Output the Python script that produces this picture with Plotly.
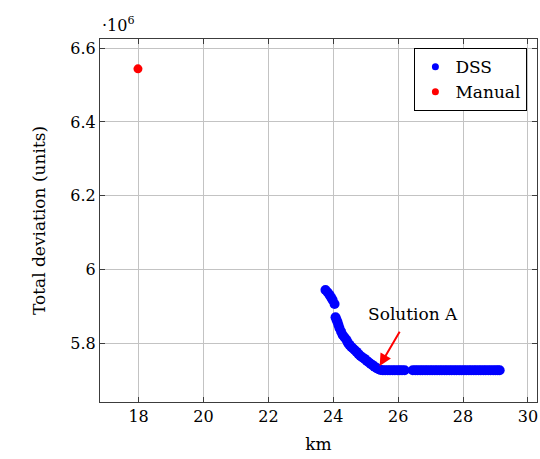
import plotly.graph_objects as go

# DSS solutions (km, total deviation in units of 10^6)
dss_km = [23.76, 23.83, 23.89, 23.94, 23.98, 24.04, 24.07, 24.10, 24.13, 24.16, 24.19,
          24.24, 24.29, 24.35, 24.41, 24.45, 24.50, 24.55, 24.60, 24.66, 24.72, 24.78,
          24.84, 24.90, 24.97, 25.03, 25.09, 25.15, 25.21, 25.27, 25.34, 25.40, 25.46,
          25.53, 25.60, 25.68, 25.75, 25.83, 25.90, 25.98, 26.05, 26.12, 26.20,
          26.45, 26.53, 26.60, 26.68, 26.75, 26.83, 26.90, 26.98, 27.05, 27.13, 27.20,
          27.28, 27.35, 27.43, 27.50, 27.58, 27.65, 27.73, 27.80, 27.88, 27.95, 28.03,
          28.10, 28.18, 28.25, 28.33, 28.40, 28.48, 28.55, 28.63, 28.70, 28.78, 28.85,
          28.93, 29.00, 29.07, 29.13]
dss_dev = [5.944, 5.937, 5.930, 5.923, 5.917, 5.906, 5.870, 5.863, 5.857, 5.849, 5.841,
           5.831, 5.822, 5.815, 5.808, 5.801, 5.795, 5.790, 5.786, 5.781, 5.776, 5.770,
           5.765, 5.761, 5.757, 5.752, 5.748, 5.744, 5.740, 5.736, 5.732, 5.729, 5.727,
           5.726, 5.726, 5.726, 5.726, 5.726, 5.726, 5.726, 5.726, 5.726, 5.726,
           5.726, 5.726, 5.726, 5.726, 5.726, 5.726, 5.726, 5.726, 5.726, 5.726, 5.726,
           5.726, 5.726, 5.726, 5.726, 5.726, 5.726, 5.726, 5.726, 5.726, 5.726, 5.726,
           5.726, 5.726, 5.726, 5.726, 5.726, 5.726, 5.726, 5.726, 5.726, 5.726, 5.726,
           5.726, 5.726, 5.726, 5.726]

manual_km = [17.98]
manual_dev = [6.544]

x_ticks = [18, 20, 22, 24, 26, 28, 30]
y_ticks = [5.8, 6.0, 6.2, 6.4, 6.6]
y_tick_labels = ["5.8", "6", "6.2", "6.4", "6.6"]

FONT = "DejaVu Serif"
BLUE = "rgb(0,0,255)"
RED = "rgb(255,0,0)"

fig = go.Figure()
fig.add_trace(go.Scatter(x=dss_km, y=dss_dev, mode="markers", name="DSS", showlegend=False,
                         marker=dict(color=BLUE, size=10, line=dict(width=0))))
fig.add_trace(go.Scatter(x=manual_km, y=manual_dev, mode="markers", name="Manual", showlegend=False,
                         marker=dict(color=RED, size=9, line=dict(width=0))))
# legend entries (smaller legend markers like the reference)
fig.add_trace(go.Scatter(x=[None], y=[None], mode="markers", name="DSS",
                         marker=dict(color=BLUE, size=7, line=dict(width=0))))
fig.add_trace(go.Scatter(x=[None], y=[None], mode="markers", name="Manual",
                         marker=dict(color=RED, size=7, line=dict(width=0))))

axis_common = dict(showgrid=True, gridcolor="rgb(195,195,195)", gridwidth=1,
                   showline=True, linecolor="rgb(60,60,60)", linewidth=1.2, mirror="ticks",
                   ticks="inside", ticklen=5, tickcolor="rgb(60,60,60)",
                   zeroline=False, tickfont=dict(family=FONT, size=16, color="black"))

fig.update_layout(
    width=540, height=459,
    margin=dict(l=100, r=3, t=39, b=57),
    paper_bgcolor="white", plot_bgcolor="white",
    font=dict(family=FONT, size=16, color="black"),
    xaxis=dict(range=[16.81, 30.28], tickvals=x_ticks,
               title=dict(text="km", font=dict(family=FONT, size=17), standoff=12),
               **axis_common),
    yaxis=dict(range=[5.64, 6.625], tickvals=y_ticks, ticktext=y_tick_labels,
               title=dict(text="Total deviation (units)", font=dict(family=FONT, size=17), standoff=20),
               **axis_common),
    legend=dict(x=0.978, y=0.975, xanchor="right", yanchor="top",
                bordercolor="black", borderwidth=1, bgcolor="white",
                font=dict(family=FONT, size=17), itemwidth=30, tracegroupgap=0),
    showlegend=True,
)

# arrow to Solution A
fig.add_annotation(x=25.43, y=5.738, ax=26.17, ay=5.849, xref="x", yref="y",
                   axref="x", ayref="y", text=" ", showarrow=True,
                   arrowhead=2, arrowsize=1.2, arrowwidth=2, arrowcolor=RED)
fig.add_annotation(x=26.45, y=5.88, xref="x", yref="y", text="Solution A",
                   showarrow=False, font=dict(family=FONT, size=17, color="black"))
# exponent label
fig.add_annotation(x=0.0, y=1.0, xref="paper", yref="paper", xanchor="left", yanchor="bottom",
                   text="·10<sup>6</sup>", showarrow=False, yshift=2,
                   font=dict(family=FONT, size=16, color="black"))

fig.write_html("out.html")
